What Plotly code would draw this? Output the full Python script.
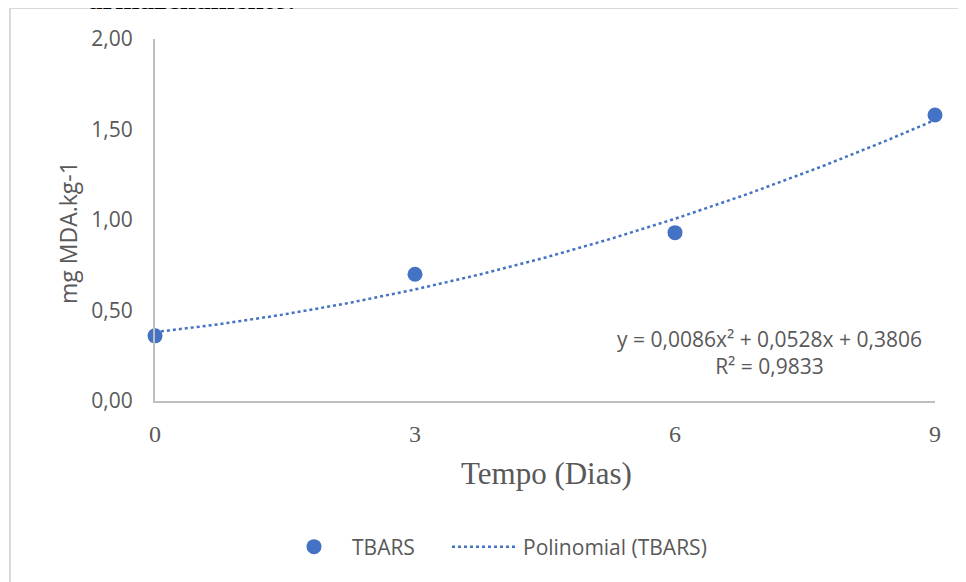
import numpy as np
import plotly.graph_objects as go

# Data
dias = [0, 3, 6, 9]
tbars = [0.36, 0.70, 0.93, 1.58]
trend_coef = [0.0086, 0.0528, 0.3806]  # y = a x^2 + b x + c (from chart)
x_ticks = [0, 3, 6, 9]
y_ticks = [0, 0.5, 1.0, 1.5, 2.0]
eq_text = "y = 0,0086x² + 0,0528x + 0,3806<br>R² = 0,9833"

OFF = 8  # page body margin
W, H = 958, 574
L, R, T, B = 147, 31, 31, 181
PW, PH = W - L - R, H - T - B


def px(x):
    return (x - OFF - L) / PW


def py(y):
    return (H - B - (y - OFF)) / PH


blue = "#4472C4"
gray = "#595959"

xt = np.linspace(0, 9, 120)
yt = np.polyval(trend_coef, xt)

fig = go.Figure()
fig.add_trace(go.Scatter(
    x=dias, y=tbars, mode="markers", name="TBARS",
    marker=dict(color=blue, size=15, line=dict(width=0)),
    cliponaxis=False, legend="legend",
))
fig.add_trace(go.Scatter(
    x=xt, y=yt, mode="lines", name="Polinomial (TBARS)",
    line=dict(color=blue, width=2.5, dash="dot"),
    cliponaxis=False, legend="legend2",
))

leg_common = dict(
    orientation="h", xanchor="left", y=py(547), yanchor="middle",
    font=dict(family="Open Sans", size=21, color=gray),
    itemwidth=66, bgcolor="rgba(0,0,0,0)",
)

fig.update_layout(
    width=W, height=H,
    margin=dict(l=L, r=R, t=T, b=B, autoexpand=False),
    paper_bgcolor="white", plot_bgcolor="white",
    separators=",.",
    font=dict(family="Open Sans", color=gray, size=20),
    showlegend=True,
    legend=dict(x=px(276), **leg_common),
    legend2=dict(x=px(447), **leg_common),
    xaxis=dict(
        range=[0, 9], tickvals=x_ticks, ticktext=[str(v) for v in x_ticks],
        showgrid=False, zeroline=False, showline=True, linecolor="#BFBFBF", linewidth=2,
        ticks="", ticklabelstandoff=10,
        tickfont=dict(family="Liberation Serif", size=24, color=gray),
        fixedrange=True,
    ),
    yaxis=dict(
        range=[0, 2], tickvals=y_ticks, tickformat=".2f",
        showgrid=False, zeroline=False, showline=True, linecolor="#BFBFBF", linewidth=2,
        ticks="", ticklabelstandoff=16,
        tickfont=dict(family="Open Sans", size=21, color=gray),
        fixedrange=True,
    ),
    shapes=[dict(
        type="rect", xref="paper", yref="paper",
        x0=px(10), x1=px(975), y0=py(595), y1=py(8),
        line=dict(color="#D9D9D9", width=2), fillcolor="rgba(0,0,0,0)", layer="below",
    )],
    annotations=[
        dict(text="mg MDA.kg-1", xref="paper", yref="paper", x=px(68), y=py(233),
             xanchor="center", yanchor="middle", textangle=-90, showarrow=False,
             font=dict(family="Open Sans", size=23, color=gray)),
        dict(text="Tempo (Dias)", xref="paper", yref="paper", x=px(546), y=py(473),
             xanchor="center", yanchor="middle", showarrow=False,
             font=dict(family="Liberation Serif", size=31, color=gray)),
        dict(text=eq_text, xref="paper", yref="paper", x=px(769), y=py(352),
             xanchor="center", yanchor="middle", showarrow=False, align="center",
             font=dict(family="Open Sans", size=21, color=gray)),
        dict(text="<b>armazenamento.</b>", xref="paper", yref="paper", x=px(191), y=py(17.5),
             xanchor="center", yanchor="bottom", showarrow=False,
             font=dict(family="Liberation Serif", size=29, color="black")),
    ],
)

fig.write_html("out.html")
